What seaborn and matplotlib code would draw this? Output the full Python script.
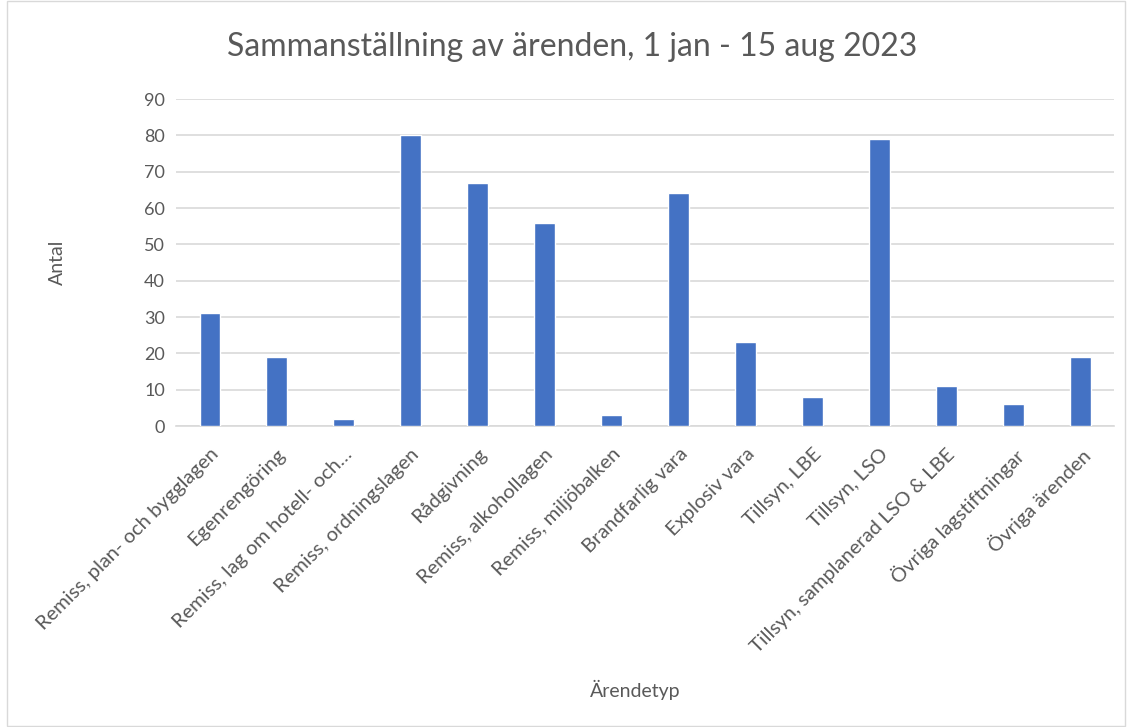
import pandas as pd
import matplotlib
matplotlib.use("Agg")
import matplotlib.pyplot as plt
import seaborn as sns
from matplotlib.patches import Rectangle

# ========================
# DATA
# ========================
CATEGORIES = [
    "Remiss, plan- och bygglagen",
    "Egenrengöring",
    "Remiss, lag om hotell- och…",
    "Remiss, ordningslagen",
    "Rådgivning",
    "Remiss, alkohollagen",
    "Remiss, miljöbalken",
    "Brandfarlig vara",
    "Explosiv vara",
    "Tillsyn, LBE",
    "Tillsyn, LSO",
    "Tillsyn, samplanerad LSO & LBE",
    "Övriga lagstiftningar",
    "Övriga ärenden",
]
COUNTS = [31, 19, 2, 80, 67, 56, 3, 64, 23, 8, 79, 11, 6, 19]
Y_TICKS = [0, 10, 20, 30, 40, 50, 60, 70, 80, 90]

TITLE = "Sammanställning av ärenden, 1 jan - 15 aug 2023"
XLABEL = "Ärendetyp"
YLABEL = "Antal"

BAR_COLOR = "#4472C4"
TEXT_COLOR = "#595959"
GRID_COLOR = "#D9D9D9"

df = pd.DataFrame({"typ": CATEGORIES, "antal": COUNTS})

# ========================
# PLOT
# ========================
sns.set_style("white")
plt.rcParams["font.family"] = ["Lato", "DejaVu Sans"]

fig = plt.figure(figsize=(11.3, 7.27), dpi=100)
ax = fig.add_axes([0.1558, 0.414, 0.83, 0.4498])

sns.barplot(data=df, x="typ", y="antal", color=BAR_COLOR, saturation=1,
            width=0.3, ax=ax, zorder=3)

ax.set_ylim(0, 90)
ax.set_yticks(Y_TICKS)
ax.set_xlim(-0.5, len(CATEGORIES) - 0.5)
ax.yaxis.grid(True, color=GRID_COLOR, linewidth=1.2, zorder=0)
ax.set_axisbelow(True)
for side in ["top", "right", "left"]:
    ax.spines[side].set_visible(False)
ax.spines["bottom"].set_color(GRID_COLOR)
ax.spines["bottom"].set_linewidth(1.2)
ax.tick_params(axis="both", length=0, colors=TEXT_COLOR)
ax.tick_params(axis="y", pad=8, labelsize=13)
ax.tick_params(axis="x", pad=14, labelsize=14.5)
plt.setp(ax.get_xticklabels(), rotation=45, ha="right", rotation_mode="anchor")

ax.set_xlabel(XLABEL, color=TEXT_COLOR, fontsize=14)
ax.xaxis.set_label_coords(0.49, -0.775)
ax.set_ylabel(YLABEL, color=TEXT_COLOR, fontsize=14)
ax.yaxis.set_label_coords(-0.117, 0.5)

fig.text(0.506, 0.935, TITLE, ha="center", va="center", color=TEXT_COLOR, fontsize=23)

# light outer frame like the chart area border
fig.patches.append(Rectangle((0.006, 0.002), 0.99, 0.996, transform=fig.transFigure,
                             fill=False, edgecolor=GRID_COLOR, linewidth=1))

fig.savefig("out.png", dpi=100)
